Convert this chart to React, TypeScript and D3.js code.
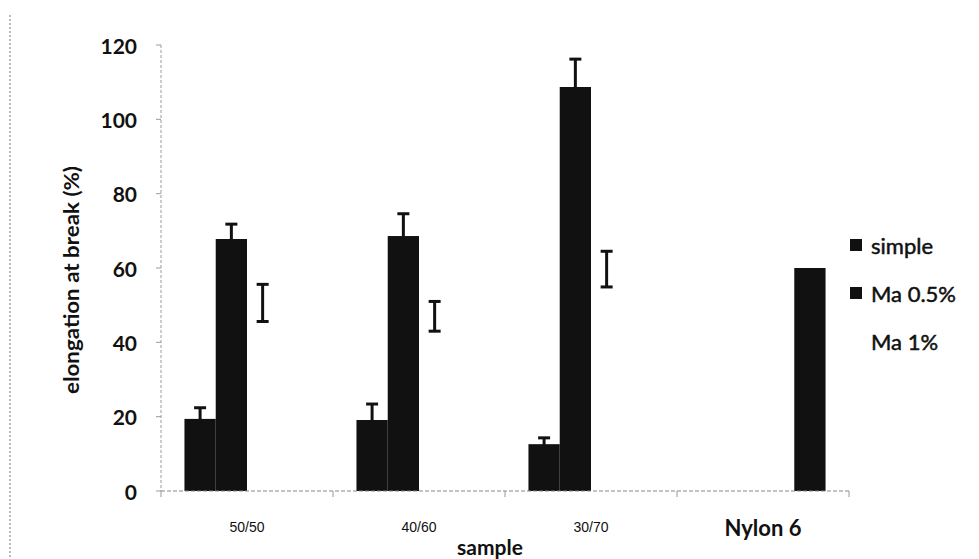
import React from "react";
import * as d3 from "d3";

const categories = ["50/50", "40/60", "30/70", "Nylon 6"];
const seriesNames = ["simple", "Ma 0.5%", "Ma 1%", "Nylon"];
const simpleVals = [19.4, 19.1, 12.6, null];
const ma05Vals = [67.8, 68.6, 108.7, null];
const ma1Vals = [50.6, 47, 59.7, null];
const nylonVals = [null, null, null, 60];
const simpleErr = [3, 4.3, 1.7, 0];
const ma05Err = [4, 6, 7.5, 0];
const ma1Err = [5, 4, 4.8, 0];
const yTicks = [0, 20, 40, 60, 80, 100, 120];
const legendItems = ["simple", "Ma 0.5%", "Ma 1%"];

const W = 979;
const H = 559;
const font = "Lato, 'Open Sans', sans-serif";

const App = () => {
  const y = d3.scaleLinear().domain([0, 120]).range([491, 45]);
  const x0 = d3.scaleBand().domain(categories).range([161, 849]).padding(0);
  const bw = x0.bandwidth();
  const barW = bw / (seriesNames.length + 1.5);
  const x1 = d3
    .scaleBand()
    .domain(seriesNames)
    .range([(bw - barW * 4) / 2, (bw + barW * 4) / 2])
    .padding(0);

  const seriesVals = [simpleVals, ma05Vals, ma1Vals, nylonVals];
  const seriesErr = [simpleErr, ma05Err, ma1Err, null];
  const fills = ["#111", "#111", "none", "#111"];

  const bars: any[] = [];
  const errs: any[] = [];
  seriesVals.forEach((vals, si) => {
    vals.forEach((v, ci) => {
      if (v == null) return;
      const bx = x0(categories[ci])! + x1(seriesNames[si])!;
      bars.push({ x: bx, v, fill: fills[si], key: si + "-" + ci });
      const e = seriesErr[si];
      if (e && e[ci]) {
        errs.push({ cx: bx + barW / 2, lo: v - e[ci], hi: v + e[ci], key: si + "-" + ci });
      }
    });
  });

  return (
    <div style={{ position: "absolute", left: 0, top: 0 }}>
      <svg width={W} height={H} style={{ display: "block", background: "#fff" }}>
        {/* scan border */}
        <line x1={10} x2={10} y1={15} y2={559} stroke="#777" strokeWidth={1} strokeDasharray="2,2" />

        {/* y axis */}
        <line x1={161} x2={161} y1={y(120)} y2={y(0)} stroke="#999" strokeWidth={1} strokeDasharray="3,2" />
        {yTicks.map((t) => (
          <g key={t}>
            <line x1={156} x2={161} y1={y(t)} y2={y(t)} stroke="#999" />
            <text
              x={137}
              y={y(t)}
              textAnchor="end"
              dominantBaseline="central"
              fontFamily={font}
              fontWeight="bold"
              fontSize={21}
              fill="#111"
            >
              {t}
            </text>
          </g>
        ))}
        <text
          transform={`translate(70,${(y(0) + y(120)) / 2 + 12}) rotate(-90)`}
          textAnchor="middle"
          dominantBaseline="central"
          fontFamily={font}
          fontWeight="bold"
          fontSize={21}
          textLength={228}
          lengthAdjust="spacingAndGlyphs"
          fill="#111"
        >
          elongation at break (%)
        </text>

        {/* bars */}
        {bars.map((b) =>
          b.fill === "none" ? null : (
            <rect key={b.key} x={b.x} y={y(b.v)} width={barW} height={y(0) - y(b.v)} fill={b.fill} />
          )
        )}
        {errs.map((e) => (
          <g key={e.key} stroke="#111" strokeWidth={3}>
            <line x1={e.cx} x2={e.cx} y1={y(e.lo)} y2={y(e.hi)} />
            <line x1={e.cx - 6} x2={e.cx + 6} y1={y(e.lo)} y2={y(e.lo)} />
            <line x1={e.cx - 6} x2={e.cx + 6} y1={y(e.hi)} y2={y(e.hi)} />
          </g>
        ))}

        {/* x axis */}
        <line x1={161} x2={849} y1={y(0)} y2={y(0)} stroke="#888" strokeWidth={1} strokeDasharray="4,2" />
        {[...categories.map((c) => x0(c)!), 849].map((t, i) => (
          <line key={i} x1={t} x2={t} y1={y(0)} y2={y(0) + 6} stroke="#999" />
        ))}
        {categories.map((c, i) => (
          <text
            key={c}
            x={x0(c)! + bw / 2}
            y={527}
            textAnchor="middle"
            dominantBaseline="central"
            fontFamily={i === 3 ? font : "'Liberation Sans Narrow', 'Liberation Sans', sans-serif"}
            fontWeight={i === 3 ? "bold" : "normal"}
            fontSize={i === 3 ? 22 : 14}
            fill="#111"
          >
            {c}
          </text>
        ))}
        <text
          x={490}
          y={546}
          textAnchor="middle"
          dominantBaseline="central"
          fontFamily={font}
          fontWeight="bold"
          fontSize={21}
          fill="#111"
        >
          sample
        </text>

        {/* legend */}
        {legendItems.map((name, i) => (
          <g key={name} transform={`translate(850,${245 + i * 48})`}>
            {i < 2 && <rect x={0} y={-6} width={12} height={12} fill="#111" />}
            <text
              x={21}
              y={0}
              dominantBaseline="central"
              fontFamily={font}
              fontSize={22}
              stroke="#111"
              strokeWidth={0.5}
              fill="#111"
            >
              {name}
            </text>
          </g>
        ))}
      </svg>
    </div>
  );
};

export default App;
